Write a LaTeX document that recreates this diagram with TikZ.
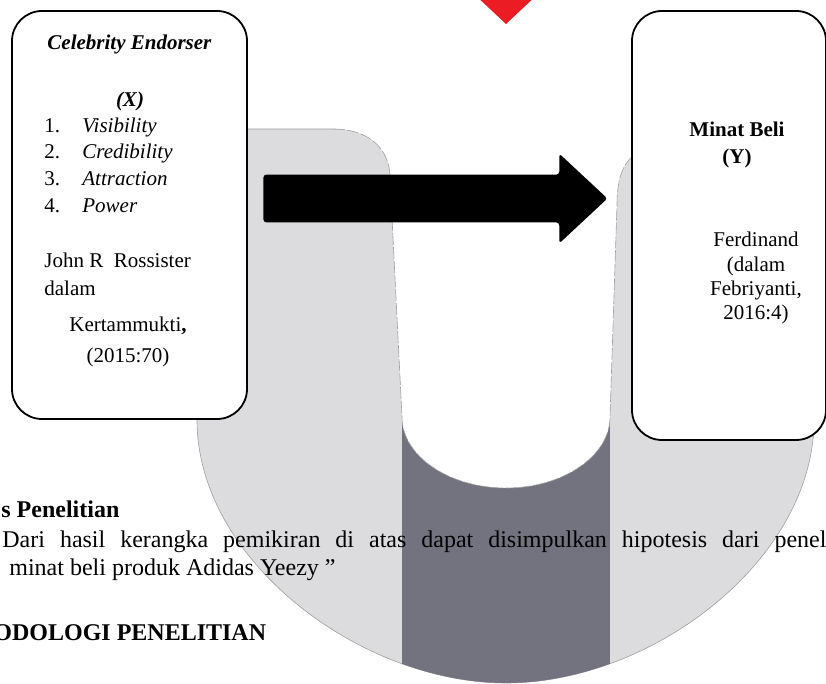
\documentclass[tikz,border=0pt]{standalone}
\usepackage{fontspec}
\setmainfont{Liberation Serif}
\usetikzlibrary{positioning, shapes.arrows, calc}
\definecolor{ulight}{HTML}{DCDCDF}
\definecolor{udark}{HTML}{72737E}
\definecolor{ured}{HTML}{EC1C24}

\begin{document}
\begin{tikzpicture}[x=0.5pt, y=-0.5pt,
  varbox/.style={draw, line width=0.9pt, rounded corners=15pt, fill=white, inner sep=0pt},
  boxtext/.style={inner sep=0pt, anchor=base, font=\fontsize{10.5}{13}\selectfont},
  bodytext/.style={inner sep=0pt, anchor=base west, font=\fontsize{12}{15}\selectfont},
  logoedge/.style={draw=gray!75, line width=0.3pt},
  ]
  \useasboundingbox (0,0) rectangle (826,684);
  % logo behind the diagram
  \fill[ured] (474,-6) -- (538,-6) -- (506,24) -- cycle;
  \path[fill=ulight, logoedge]
    (197,129) -- (814,129) -- (814,420)
    .. controls (814,560) and (652,683) .. (506,683)
    .. controls (360,683) and (197,560) .. (197,420) -- cycle;
  \begin{scope}
    \clip (197,129) -- (814,129) -- (814,420)
      .. controls (814,560) and (652,683) .. (506,683)
      .. controls (360,683) and (197,560) .. (197,420) -- cycle;
    \fill[udark] (402,400) rectangle (610,700);
  \end{scope}
  \fill[white] (333,100) -- (333,129) .. controls (368,129) and (390,148) .. (390,178)
    -- (402,417) .. controls (402,456) and (449,488) .. (506,488)
    .. controls (563,488) and (610,456) .. (610,417)
    -- (617,205) .. controls (617,175) and (624,158) .. (645,148) -- (645,100) -- cycle;
  \draw[logoedge, dash pattern=on 6pt off 1pt] (333,129) .. controls (368,129) and (390,148) .. (390,178)
    -- (402,417) .. controls (402,456) and (449,488) .. (506,488)
    .. controls (563,488) and (610,456) .. (610,417)
    -- (617,205) .. controls (617,175) and (624,158) .. (645,148);

  % variables
  \node[varbox, minimum width=117.5pt, minimum height=204pt] (celeb) at (129.5,215) {};
  \node[varbox, minimum width=97pt, minimum height=214.5pt] (minat) at (729,225.5) {};
  \node[single arrow, fill=black, inner xsep=0pt, inner ysep=11.75pt, rounded corners=1.5pt,
        minimum height=172pt, minimum width=44.5pt, single arrow head extend=10.5pt,
        single arrow tip angle=86, anchor=west] (arr) at (263,198.5) {};

  % text of X
  \node[boxtext] (xtitle) at (129.5,50) {\textbf{\textit{Celebrity Endorser}}};
  \node[boxtext] (xvar) at (130,107) {\textbf{\textit{(X)}}};
  \foreach \i/\dimname/\yy in {1/Visibility/133, 2/Credibility/159, 3/Attraction/186, 4/Power/213} {
    \node[boxtext, anchor=base west] (num\i) at (44,\yy) {\i.};
    \node[boxtext, anchor=base west] (dim\i) at (82,\yy) {\textit{\dimname}};
  }
  \node[boxtext, anchor=base west] (xsrc1) at (44,268) {John R\ \ Rossister};
  \node[boxtext, anchor=base west] (xsrc2) at (44,296) {dalam};
  \node[boxtext] (xsrc3) at (128,332) {Kertammukti\textbf{,}};
  \node[boxtext] (xsrc4) at (128,363) {(2015:70)};

  % text of Y
  \node[boxtext] (ytitle) at (737,137) {\textbf{Minat Beli}};
  \node[boxtext] (yvar) at (737,164) {\textbf{(Y)}};
  \node[boxtext] (ysrc1) at (756,247) {Ferdinand};
  \node[boxtext] (ysrc2) at (756,272) {(dalam};
  \node[boxtext] (ysrc3) at (756,296) {Febriyanti,};
  \node[boxtext] (ysrc4) at (756,320) {2016:4)};

  % page text over the logo
  \node[bodytext, font=\fontsize{12}{15}\selectfont\bfseries] (hipo) at (1,518) {s Penelitian};
  \node[bodytext] (para1) at (2,548) {\makebox[412pt][s]{Dari hasil kerangka pemikiran di atas dapat disimpulkan hipotesis dari penel}};
  \node[bodytext] (para2) at (9,576) {minat beli produk Adidas Yeezy ”};
  \node[bodytext, font=\fontsize{12}{15}\selectfont\bfseries] (metode) at (-7,640) {ODOLOGI PENELITIAN};
\end{tikzpicture}
\end{document}
